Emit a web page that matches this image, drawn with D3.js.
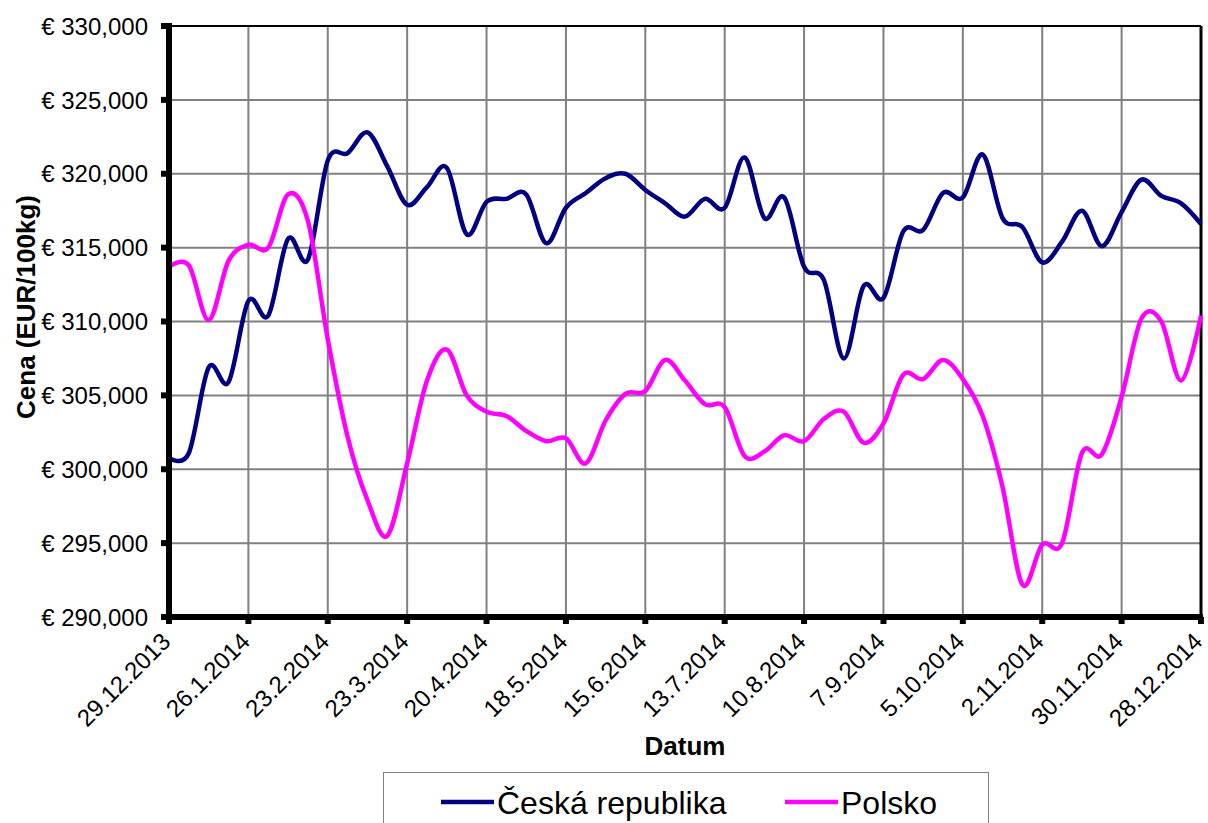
<!DOCTYPE html>
<meta charset="utf-8">
<style>
body { margin: 0; background: #fff; }
svg { font-family: "Liberation Sans", Arial, sans-serif; }
.grid line { stroke: #808080; stroke-width: 2; }
.tick-lbl { font-size: 24px; fill: #000; }
.title { font-size: 26px; font-weight: bold; fill: #000; }
.legend text { font-size: 32px; fill: #000; }
</style>
<body>
<div id="chart"></div>
<script src="https://cdn.jsdelivr.net/npm/d3@7"></script>
<script>

// weekly prices, EUR/100kg, first week 29.12.2013
var startDate = new Date(Date.UTC(2013, 11, 29))

var cesko = [300.8, 301.1, 306.9, 305.9, 311.4, 310.4, 315.6, 314.2, 320.9, 321.4,
    322.8, 320.5, 317.9, 319.1, 320.4, 315.9, 318.1, 318.3, 318.6, 315.3,
    317.7, 318.7, 319.7, 320.0, 318.9, 318.0, 317.1, 318.3, 317.7, 321.1,
    317.0, 318.4, 313.7, 312.8, 307.5, 312.4, 311.6, 316.1, 316.2, 318.7,
    318.4, 321.3, 317.0, 316.4, 314.0, 315.4, 317.5, 315.1, 317.4, 319.6,
    318.5, 318.0, 316.6]

var polsko = [313.7, 313.8, 310.1, 314.1, 315.2, 315.0, 318.6, 316.8, 308.8, 302.2,
    297.9, 295.5, 300.4, 306.0, 308.1, 305.0, 303.9, 303.6, 302.6, 301.9,
    302.1, 300.4, 303.3, 305.1, 305.3, 307.4, 306.0, 304.4, 304.2, 300.9,
    301.2, 302.3, 301.9, 303.4, 303.9, 301.8, 303.1, 306.4, 306.1, 307.4,
    306.1, 303.6, 298.8, 292.2, 294.9, 295.0, 301.1, 301.0, 304.9, 310.2,
    310.0, 306.0, 310.4]

var seriesNames = ['Česká republika', 'Polsko']
var seriesColors = ['#000080', '#ff00ff']
var yTicks = [290, 295, 300, 305, 310, 315, 320, 325, 330]

var width = 1208
var height = 823
var pLeft = 169, pRight = 1201, pTop = 26, pBottom = 617

var weeks = cesko.map(function (d, i) { return d3.utcDay.offset(startDate, i * 7) })
var xTicks = weeks.filter(function (d, i) { return i % 4 === 0 })

var locale = d3.formatLocale({ decimal: ',', thousands: ' ', grouping: [3], currency: ['€ ', ''] })
var fmtY = locale.format('$.3f')
var fmtDate = d3.utcFormat('%-d.%-m.%Y')

var x = d3.scaleUtc()
    .domain([weeks[0], weeks[weeks.length - 1]])
    .range([pLeft, pRight])

var y = d3.scaleLinear()
    .domain([290, 330])
    .range([pBottom, pTop])

var svg = d3.select('#chart')
    .append('svg')
    .attr('width', width)
    .attr('height', height)

// gridlines
var grid = svg.append('g').attr('class', 'grid')
grid.selectAll('.h')
    .data(yTicks)
    .enter().append('line')
    .attr('x1', pLeft).attr('x2', pRight)
    .attr('y1', y).attr('y2', y)
grid.selectAll('.v')
    .data(xTicks)
    .enter().append('line')
    .attr('x1', x).attr('x2', x)
    .attr('y1', pTop).attr('y2', pBottom)

// thin top and right border
svg.append('line')
    .attr('x1', pLeft).attr('x2', pRight).attr('y1', pTop).attr('y2', pTop)
    .attr('stroke', '#000').attr('stroke-width', 2)
svg.append('line')
    .attr('x1', pRight).attr('x2', pRight).attr('y1', pTop).attr('y2', pBottom)
    .attr('stroke', '#000').attr('stroke-width', 3)

// series
var line = d3.line()
    .x(function (d, i) { return x(weeks[i]) })
    .y(function (d) { return y(d) })
    .curve(d3.curveCardinal.tension(0))

;[cesko, polsko].forEach(function (s, k) {
    svg.append('path')
        .datum(s)
        .attr('fill', 'none')
        .attr('stroke', seriesColors[k])
        .attr('stroke-width', 4.5)
        .attr('stroke-linejoin', 'round')
        .attr('d', line)
})

// axes (thick, excel style)
var yAxis = svg.append('g')
yAxis.append('line')
    .attr('x1', pLeft).attr('x2', pLeft).attr('y1', pTop - 3).attr('y2', pBottom + 3)
    .attr('stroke', '#000').attr('stroke-width', 6)
yAxis.selectAll('.tk')
    .data(yTicks)
    .enter().append('line')
    .attr('x1', pLeft - 8).attr('x2', pLeft)
    .attr('y1', y).attr('y2', y)
    .attr('stroke', '#000').attr('stroke-width', 6)
yAxis.selectAll('text')
    .data(yTicks)
    .enter().append('text')
    .attr('class', 'tick-lbl')
    .attr('x', pLeft - 21)
    .attr('y', y)
    .attr('dy', '0.36em')
    .attr('text-anchor', 'end')
    .text(fmtY)

var xAxis = svg.append('g')
xAxis.append('line')
    .attr('x1', pLeft - 3).attr('x2', pRight + 2).attr('y1', pBottom).attr('y2', pBottom)
    .attr('stroke', '#000').attr('stroke-width', 6)
xAxis.selectAll('.tk')
    .data(xTicks)
    .enter().append('line')
    .attr('x1', x).attr('x2', x)
    .attr('y1', pBottom).attr('y2', pBottom + 7)
    .attr('stroke', '#000').attr('stroke-width', 6)
xAxis.selectAll('text')
    .data(xTicks)
    .enter().append('text')
    .attr('class', 'tick-lbl')
    .attr('text-anchor', 'end')
    .attr('transform', function (d) {
        return 'translate(' + (x(d) + 3) + ',' + 643 + ') rotate(-45)'
    })
    .text(fmtDate)

// titles
svg.append('text')
    .attr('class', 'title')
    .attr('text-anchor', 'middle')
    .attr('transform', 'translate(34.5,307) rotate(-90)')
    .text('Cena (EUR/100kg)')

svg.append('text')
    .attr('class', 'title')
    .attr('text-anchor', 'middle')
    .attr('x', (pLeft + pRight) / 2)
    .attr('y', 755)
    .text('Datum')

// legend
var legend = svg.append('g').attr('class', 'legend')
legend.append('rect')
    .attr('x', 383.5).attr('y', 772.5)
    .attr('width', 605).attr('height', 70)
    .attr('fill', '#fff')
    .attr('stroke', '#808080')
    .attr('stroke-width', 1)

var legX = [441, 785]
seriesNames.forEach(function (n, k) {
    legend.append('line')
        .attr('x1', legX[k]).attr('x2', legX[k] + 53)
        .attr('y1', 802).attr('y2', 802)
        .attr('stroke', seriesColors[k])
        .attr('stroke-width', 4.5)
    legend.append('text')
        .attr('x', legX[k] + 56)
        .attr('y', 814)
        .text(n)
})

</script>
</body>
